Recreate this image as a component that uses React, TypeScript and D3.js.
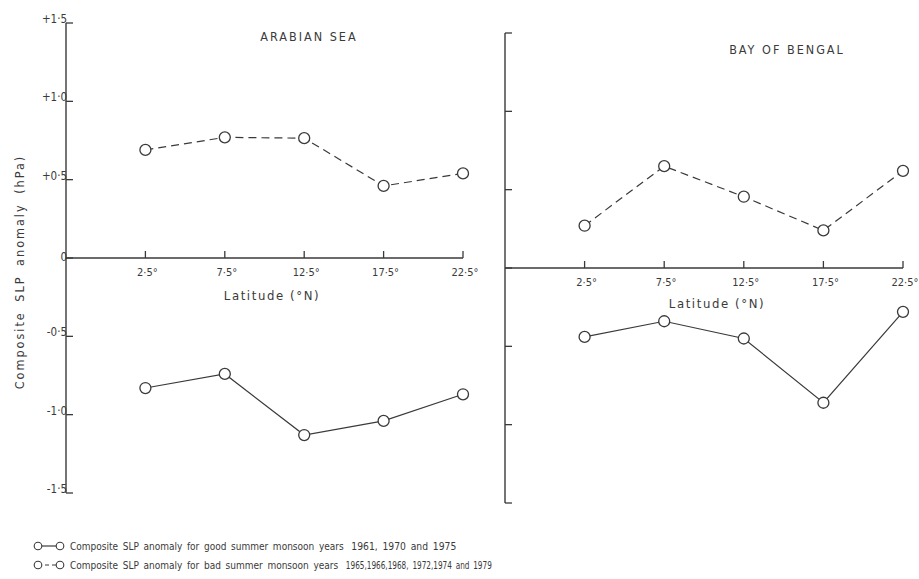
import React from "react";
import * as d3 from "d3";

const latitudes = [2.5, 7.5, 12.5, 17.5, 22.5];
const latLabels = ["2·5°", "7·5°", "12·5°", "17·5°", "22·5°"];
const yTickValues = [1.5, 1.0, 0.5, 0, -0.5, -1.0, -1.5];
const yTickLabels = ["+1·5", "+1·0", "+0·5", "0", "-0·5", "-1·0", "-1·5"];

const arabianGood = [-0.83, -0.74, -1.13, -1.04, -0.87];
const arabianBad = [0.69, 0.77, 0.765, 0.46, 0.54];
const bengalGood = [-0.44, -0.34, -0.45, -0.86, -0.28];
const bengalBad = [0.27, 0.65, 0.455, 0.24, 0.62];

const panelTitles = ["ARABIAN  SEA", "BAY  OF  BENGAL"];
const legendPrefixes = [
  "Composite  SLP  anomaly  for  good  summer  monsoon  years ",
  "Composite  SLP  anomaly  for  bad  summer  monsoon  years ",
];
const legendYears = ["1961, 1970  and  1975", "1965,1966,1968, 1972,1974  and  1979"];

const INK = "#3a3a3a";
const FONT = "'DejaVu Sans Condensed', 'DejaVu Sans', sans-serif";

type PanelProps = {
  x0: number; x1: number; yTop: number; yBot: number;
  good: number[]; bad: number[]; title: string; titleX: number; titleY: number;
  showLabels: boolean; latLabelX: number; latLabelY: number;
};

function Panel(p: PanelProps) {
  const x = d3.scaleLinear().domain([-2.5, 22.5]).range([p.x0, p.x1]);
  const y = d3.scaleLinear().domain([-1.5, 1.5]).range([p.yBot, p.yTop]);
  const line = d3.line<number>().x((_, i) => x(latitudes[i])).y((d) => y(d));
  const y0 = y(0);
  return (
    <g>
      <line x1={p.x0} x2={p.x0} y1={p.yTop} y2={p.yBot} stroke={INK} strokeWidth={1.4} />
      {yTickValues.map((v, i) => (
        <g key={v}>
          <line x1={p.x0} x2={p.x0 + 7} y1={y(v)} y2={y(v)} stroke={INK} strokeWidth={1.3} />
          {p.showLabels && (
            <text x={p.x0 + 1} y={y(v) + (v === 0 ? 3 : 0)} textAnchor="end" fontSize={11.5} fill={INK} fontFamily={FONT}>
              {yTickLabels[i]}
            </text>
          )}
        </g>
      ))}
      <line x1={p.x0} x2={p.x1} y1={y0} y2={y0} stroke={INK} strokeWidth={1.6} />
      {latitudes.map((lat, i) => (
        <g key={lat}>
          <line x1={x(lat)} x2={x(lat)} y1={y0 - 7} y2={y0} stroke={INK} strokeWidth={1.3} />
          <text x={x(lat) + 2} y={y0 + 18} textAnchor="middle" fontSize={11} fill={INK} fontFamily={FONT}>
            {latLabels[i]}
          </text>
        </g>
      ))}
      <text x={p.latLabelX} y={p.latLabelY} textAnchor="middle" fontSize={13} fill={INK} fontFamily={FONT} letterSpacing={1.6}>
        Latitude (°N)
      </text>
      <text x={p.titleX} y={p.titleY} textAnchor="middle" fontSize={12.5} fill={INK} fontFamily={FONT} letterSpacing={2}>
        {p.title}
      </text>
      <path d={line(p.bad) || ""} fill="none" stroke={INK} strokeWidth={1.2} strokeDasharray="8,5" />
      <path d={line(p.good) || ""} fill="none" stroke={INK} strokeWidth={1.2} />
      {[...p.bad, ...p.good].map((v, i) => (
        <circle key={i} cx={x(latitudes[i % 5])} cy={y(v)} r={5.5} fill="#fff" stroke={INK} strokeWidth={1.3} />
      ))}
    </g>
  );
}

export default function App() {
  const yearLengths = [105, 146];
  return (
    <svg width={919} height={579} style={{ position: "absolute", left: 0, top: 0, background: "#fff" }}>
      <rect width={919} height={579} fill="#fff" />
      <Panel x0={66} x1={463} yTop={23} yBot={493} good={arabianGood} bad={arabianBad}
        title={panelTitles[0]} titleX={309} titleY={41} showLabels={true} latLabelX={272} latLabelY={300} />
      <Panel x0={505} x1={903} yTop={33} yBot={503} good={bengalGood} bad={bengalBad}
        title={panelTitles[1]} titleX={787} titleY={54} showLabels={false} latLabelX={717} latLabelY={308} />
      <text transform="translate(24,272) rotate(-90)" textAnchor="middle" fontSize={12.5} fill={INK} fontFamily={FONT} letterSpacing={2} wordSpacing={4}>
        Composite SLP anomaly (hPa)
      </text>
      {legendPrefixes.map((t, i) => {
        const ly = 546 + i * 19;
        return (
          <g key={i}>
            <line x1={38} x2={58} y1={ly} y2={ly} stroke={INK} strokeWidth={1.2} strokeDasharray={i === 1 ? "4,3" : undefined} />
            <circle cx={38} cy={ly} r={3.8} fill="#fff" stroke={INK} strokeWidth={1.1} />
            <circle cx={60} cy={ly} r={3.8} fill="#fff" stroke={INK} strokeWidth={1.1} />
            <text x={70} y={ly + 4} fontSize={10} fill={INK} fontFamily={FONT} wordSpacing={1.8}>
              {t}
              <tspan dx={3} textLength={yearLengths[i]} lengthAdjust="spacingAndGlyphs">{legendYears[i]}</tspan>
            </text>
          </g>
        );
      })}
    </svg>
  );
}
